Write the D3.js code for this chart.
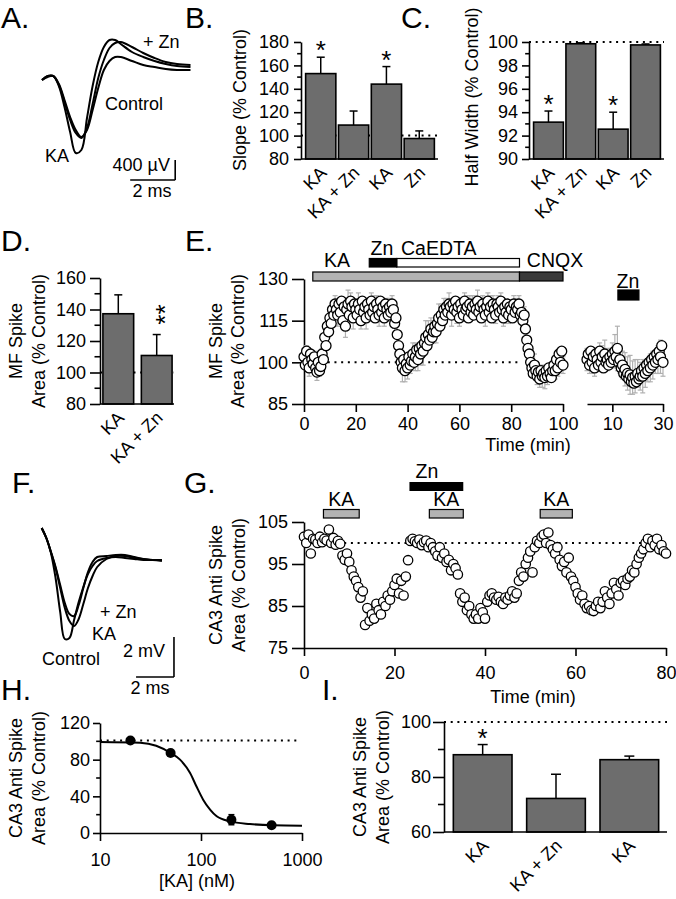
<!DOCTYPE html>
<html><head><meta charset="utf-8">
<script src="https://cdn.jsdelivr.net/npm/d3@7"></script>
<style>
body{margin:0;background:#fff;}
svg{display:block;font-family:'Liberation Sans',Arial,Helvetica,sans-serif;}
</style></head><body>
<svg id="fig" width="676" height="899"></svg>
<script>
// ================= DATA =================
// A: mossy fibre field potentials (ms, µV)
const aTime = [0,0.25,0.5,0.75,1,1.25,1.5,1.75,2,2.25,2.5,2.75,3,3.25,3.5,4,4.5,5,5.5,6,6.6];
const aKA = [0,60,80,-120,-540,-1040,-1460,-1400,-760,-120,360,660,800,800,720,560,460,380,320,280,260];
const aControl = [0,80,80,-100,-440,-800,-1060,-1160,-960,-480,40,400,640,740,760,660,540,440,360,320,300];
const aZn = [0,80,80,-80,-400,-740,-1000,-1140,-1000,-600,-160,200,380,460,460,380,300,260,220,200,200];

// B: slope
const bCats = ["KA", "KA + Zn", "KA", "Zn"];
const bSlope = [153, 109, 144, 97.5];
const bSlopeErr = [14, 12, 15, 6.5];
const bTicks = [80, 100, 120, 140, 160, 180];

// C: half width
const cCats = ["KA", "KA + Zn", "KA", "Zn"];
const cHalf = [93.15, 99.85, 92.55, 99.75];
const cHalfErr = [0.95, 0.08, 1.45, 0.08];
const cTicks = [90, 92, 94, 96, 98, 100];

// D: MF spike area
const dCats = ["KA", "KA + Zn"];
const dArea = [137.3, 110.8];
const dAreaErr = [12, 13.3];
const dTicks = [80, 100, 120, 140, 160];

// E: MF spike area time course (0.5-min samples), error per whole minute
const eLeftArea = [
 102, 99, 104, 100, 98, 103, 101, 99.5, 102,
 98, 96.5, 100, 97, 98.5,
 103, 101, 109, 106, 113, 111,
 116, 114, 119, 117, 121,
 119, 117, 121, 118, 122, 115, 120, 113, 119, 121, 117, 122, 120, 116, 121, 119,
 117, 121, 119, 115, 122, 118, 120, 116, 121, 119, 117, 122, 118, 120, 116, 121,
 119, 117, 122, 118, 120, 116, 121, 119, 117, 120, 118, 121,
 119, 114, 116, 110, 106, 103,
 100, 98, 101, 97, 99.5, 98, 102, 99, 100.5,
 103, 100, 102, 104.5, 101, 105, 103, 106,
 104, 107, 109, 106, 110, 108, 112, 109, 111,
 113, 111, 114, 116, 113, 117, 115, 119, 117, 120, 118, 121,
 120, 117, 121, 119, 122, 118, 120, 116, 121, 119,
 117, 122, 119, 120, 116, 121, 118, 120, 117, 121,
 119, 122, 118, 120, 116, 121, 119, 117, 120, 122,
 118, 120, 116, 121, 119, 117, 121, 120, 118, 122,
 119, 116, 120, 118, 121, 117, 120, 119, 116, 121,
 118, 120,
 119, 121, 117, 118,
 115, 117, 112, 108, 105, 103, 100,
 98, 96, 99, 97, 95, 96.5, 94, 97, 95,
 96, 94.5, 97, 95, 98, 96, 94.5, 97,
 99, 97, 101, 98, 103, 100, 104, 99];
const eLeftErr = [
 3, 2, 3, 2, 2, 3, 2, 2, 3, 3, 3,
 3, 3, 4, 3, 3, 4, 5, 3, 4, 3,
 4, 3, 3, 4, 3, 3, 4, 3, 4, 3,
 3, 4, 3, 3, 4, 5, 4, 5, 4, 4,
 3, 4, 5, 4, 4, 5, 6, 5, 4, 4,
 4, 5, 4, 4, 3, 4, 4, 3, 4, 3,
 4, 3, 4, 3, 4, 3, 4, 3, 3, 4,
 3, 4, 3, 3, 4, 3, 3, 4, 3, 3,
 3, 3, 3, 3, 3, 4, 4, 3, 4, 3,
 3, 4, 4, 3, 3, 3, 3, 3, 3, 3];
const eRightArea = [
 101, 103, 99, 104, 100, 102, 98, 103, 101, 99, 104,
 100, 102, 98, 103, 100, 101, 99, 102, 100, 103, 101,
 104, 102, 105, 100, 101,
 98, 99, 96, 97.5, 95, 96, 94, 95.5, 93, 94.5,
 92.5, 95, 93, 96, 94, 95,
 97, 95, 98, 96, 99, 97, 100, 98,
 101, 99, 102, 100, 103, 101, 104, 102, 106, 100];
const eRightErr = [4, 3, 4, 3, 4, 3, 4, 5, 4, 3, 4, 6, 8, 5, 5, 6, 6, 7, 6, 6, 5, 5, 6, 5, 4, 5, 5, 4, 5, 6, 5];
const eTicksL = [0, 20, 40, 60, 80, 100];
const eTicksR = [10, 30];
const eTicksY = [85, 100, 115, 130];
// drug application periods (min)
const eKA = [3.4, 83.2];
const eCNQX = [83.2, 100];
const eZn = [25.2, 35.8];
const eCaEDTA = [35.8, 83.2];
const eZnRight = [12.2, 20.5];

// F: CA3 antidromic spike traces (ms, mV)
const fTime = [0,0.25,0.5,0.75,1,1.25,1.5,1.75,2,2.25,2.5,2.75,3,3.5,4,4.5,5,5.5,6,6.5];
const fControl = [1.6,1.1,0.35,-0.9,-2.6,-3.95,-3.9,-3.0,-2.1,-1.35,-0.7,-0.3,-0.05,0.1,0.15,0.1,0.05,0,0,-0.05];
const fKA = [1.6,1.1,0.4,-0.4,-1.4,-2.4,-3.05,-3.3,-2.95,-2.2,-1.4,-0.8,-0.35,0.05,0.2,0.2,0.1,0.05,0,0];
const fZn = [1.6,1.1,0.4,-0.35,-1.25,-2.15,-2.7,-2.8,-2.25,-1.4,-0.6,-0.1,0.15,0.2,0.25,0.25,0.15,0.05,0,0];

// G: CA3 antidromic spike area time course (0.5-min samples)
const gArea = [
 101.5, 100, 102, 97.5, 101, 100.8, 100, 101.5, 100.2, 101, 100.6,
 103.2, 100, 101.2, 99.6, 100.5, 99.8, 97, 96, 97.5, 95.5,
 93.5, 92, 91, 89.5, 87, 88.5,
 80.5, 84.5, 81.5, 83, 82, 85.5, 84, 83,
 86, 85, 87.5, 86.5, 88.5, 90, 91.5, 88, 91, 87.5, 92,
 95.9, 100.5,
 101, 100.4, 100, 100.8, 99.5, 100.2, 100.6, 99, 100,
 99, 98, 97, 99, 96.5, 97.5, 95.5, 96, 93.5, 95, 94, 92.5,
 88, 86, 87, 84, 85, 83, 82,
 83, 82, 84.5, 83.5, 82, 86,
 87.5, 88, 87, 86.5, 87.2, 86, 85.5, 87, 86.5, 87.5, 88.5, 87, 88,
 91, 93, 92, 95, 96.5, 98, 93,
 99, 100.5, 100, 101.5, 102, 100, 102.5, 99.5, 98.5,
 97.5, 99, 96, 94.5, 95.5, 93, 96.5, 92, 91, 89.5,
 88, 86.5, 87.5, 85.5, 84.5, 85, 84, 83.8, 85, 86,
 84.5, 86, 88.5, 87, 85.5, 88, 90.5, 89, 87.5, 90.5, 91, 90,
 91.5, 92, 93.5, 93, 95, 96.5, 97.5,
 98.5, 100, 101, 99, 100.5, 99.5, 101, 98.5, 99.5, 98, 97.5];
const gTicksX = [0, 20, 40, 60, 80];
const gTicksY = [75, 85, 95, 105];
const gKA = [[4.3, 12.2], [27.7, 35.2], [52.2, 59.3]];
const gZn = [23.3, 35.2];

// H: concentration response
const hConc = [20, 50, 200, 500];
const hArea = [101, 87.3, 14.5, 8.4];
const hErr = [2.5, 3, 5.5, 3];
const hFitConc = [10, 25, 36, 50, 62, 78, 90, 105, 123, 143, 194, 305, 520, 1000];
const hFitArea = [99.3, 98.5, 95.2, 87.3, 80, 65.4, 51, 36.4, 25.5, 18.2, 12.7, 9.8, 8.4, 8];
const hTicksX = [10, 100, 1000];
const hTicksY = [0, 40, 80, 120];

// I: CA3 antidromic spike area
const iCats = ["KA", "KA + Zn", "KA"];
const iArea = [88.1, 72.2, 86.3];
const iAreaErr = [3.7, 8.8, 1.3];
const iTicks = [60, 80, 100];

// ================= DRAWING =================
const svg = d3.select('#fig');
const FS = 18;
const DRUG = 19.5;
const BAR = '#6d6d6d';

function txt(x, y, s, anchor = 'start', size = FS) {
  return svg.append('text').attr('x', x).attr('y', y).attr('text-anchor', anchor)
    .attr('font-size', size).attr('fill', '#000').text(s);
}
function vtxt(x, yc, s, size = FS) {
  return svg.append('text').attr('transform', `translate(${x},${yc}) rotate(-90)`)
    .attr('text-anchor', 'middle').attr('font-size', size).attr('fill', '#000').text(s);
}
function hline(x1, x2, y, w = 1.6, col = '#000') {
  svg.append('line').attr('x1', x1).attr('x2', x2).attr('y1', y).attr('y2', y)
    .attr('stroke', col).attr('stroke-width', w);
}
function vline(x, y1, y2, w = 1.6, col = '#000') {
  svg.append('line').attr('x1', x).attr('x2', x).attr('y1', y1).attr('y2', y2)
    .attr('stroke', col).attr('stroke-width', w);
}
function dotted(x1, x2, y) {
  svg.append('line').attr('x1', x1).attr('x2', x2).attr('y1', y).attr('y2', y)
    .attr('stroke', '#000').attr('stroke-width', 2).attr('stroke-dasharray', '2,4.7');
}
function styleAxis(a) {
  a.attr('font-size', FS).attr('font-family', null);
  a.selectAll('path.domain').attr('stroke', '#000').attr('stroke-width', 1.6);
  a.selectAll('.tick line').attr('stroke', '#000').attr('stroke-width', 1.6);
  a.selectAll('.tick text').attr('fill', '#000');
  return a;
}
function yAxis(scale, x, ticks, size, pad, minor) {
  const a = svg.append('g').attr('transform', `translate(${x},0)`)
    .call(d3.axisLeft(scale).tickValues(ticks).tickSize(size).tickSizeOuter(0)
      .tickPadding(pad).tickFormat(d3.format('d')));
  styleAxis(a);
  (minor || []).forEach(v => a.append('line').attr('x1', -size * 0.55).attr('x2', 0)
    .attr('y1', scale(v)).attr('y2', scale(v)).attr('stroke', '#000').attr('stroke-width', 1.6));
  return a;
}
function xAxis(scale, y, ticks, size, pad) {
  const a = svg.append('g').attr('transform', `translate(0,${y})`)
    .call(d3.axisBottom(scale).tickValues(ticks).tickSize(size).tickSizeOuter(0)
      .tickPadding(pad).tickFormat(d3.format('d')));
  return styleAxis(a);
}
function star(x, yc, rotated) {
  if (rotated) {
    svg.append('text').attr('transform', `translate(${x + 15},${yc}) rotate(-90)`)
      .attr('text-anchor', 'middle').attr('font-size', 26).text('**');
  } else {
    svg.append('text').attr('x', x).attr('y', yc + 15).attr('text-anchor', 'middle')
      .attr('font-size', 26).text('*');
  }
}
function letter(x, y, s) { txt(x, y, s, 'start', 30); }

function barPanel(p) {
  const xb = d3.scaleBand().domain(d3.range(p.vals.length)).range(p.band)
    .paddingInner(p.pIn).paddingOuter(p.pOut);
  const y = p.y, base = y.range()[0];
  if (p.ref != null) dotted(p.axisX, p.xEnd, y(p.ref));
  svg.append('g').selectAll('rect').data(p.vals).join('rect')
    .attr('x', (d, i) => xb(i)).attr('y', d => y(d))
    .attr('width', xb.bandwidth()).attr('height', d => base - y(d))
    .attr('fill', BAR).attr('stroke', '#000').attr('stroke-width', 1.6);
  p.vals.forEach((v, i) => {
    const cx = xb(i) + xb.bandwidth() / 2, top = y(v + p.errs[i]);
    vline(cx, y(v), top, 1.5);
    hline(cx - p.capW / 2, cx + p.capW / 2, top, 1.5);
  });
  hline(p.axisX, p.xEnd, base);
  yAxis(y, p.axisX, p.ticks, p.tickSize, p.tickPad, p.minor);
  p.cats.forEach((c, i) => {
    const cx = xb(i) + xb.bandwidth() / 2;
    svg.append('text').attr('transform', `translate(${cx + 7},${base + 15}) rotate(-45)`)
      .attr('text-anchor', 'end').attr('font-size', FS).text(c);
  });
  (p.stars || []).forEach(([i, rot]) => {
    const cx = xb(i) + xb.bandwidth() / 2;
    const top = y(p.vals[i] + p.errs[i]);
    if (rot) star(cx + 2, top - 20, true); else star(cx, top - 13, false);
  });
}

// ---------- A ----------
letter(1, 28, 'A.');
{
  const x = d3.scaleLinear().domain([0, 6.6]).range([42, 42 + 6.6 * 22.5]);
  const y = d3.scaleLinear().domain([0, -1500]).range([80, 155]);
  const line = d3.line().x((d, i) => x(aTime[i])).y(d => y(d)).curve(d3.curveCatmullRom.alpha(0.5));
  [aZn, aControl, aKA].forEach(tr => svg.append('path').attr('d', line(tr))
    .attr('fill', 'none').attr('stroke', '#000').attr('stroke-width', 2));
  // scale bar 2 ms / 400 µV
  hline(x(3.92), x(5.92), y(-2000));
  vline(x(5.92), y(-1600), y(-2000));
  txt(143, 48, '+ Zn');
  txt(105, 110, 'Control');
  txt(45, 162, 'KA');
  txt(170, 171, '400 µV', 'end');
  txt(152, 197, '2 ms', 'middle');
}

// ---------- B ----------
letter(185, 28, 'B.');
barPanel({ cats: bCats, vals: bSlope, errs: bSlopeErr,
  y: d3.scaleLinear().domain([80, 180]).range([159, 42]),
  band: [303, 437], pIn: 0.08, pOut: 0.08, axisX: 301, xEnd: 438, ref: 100,
  ticks: bTicks, minor: [90, 110, 130, 150, 170], tickSize: 7, tickPad: 5, capW: 8,
  stars: [[0, false], [2, false]] });
vtxt(246, 100, 'Slope (% Control)');

// ---------- C ----------
letter(401, 28, 'C.');
barPanel({ cats: cCats, vals: cHalf, errs: cHalfErr,
  y: d3.scaleLinear().domain([90, 100]).range([159, 42]),
  band: [531, 663], pIn: 0.08, pOut: 0.08, axisX: 529, xEnd: 664, ref: 100,
  ticks: cTicks, minor: [91, 93, 95, 97, 99], tickSize: 7, tickPad: 4, capW: 8,
  stars: [[0, false], [2, false]] });
vtxt(478, 97, 'Half Width (% Control)');

// ---------- D ----------
letter(1, 251, 'D.');
barPanel({ cats: dCats, vals: dArea, errs: dAreaErr,
  y: d3.scaleLinear().domain([80, 160]).range([404, 278]),
  band: [101, 174], pIn: 0.2, pOut: 0.05, axisX: 100, xEnd: 174, ref: 100,
  ticks: dTicks, minor: [90, 110, 130, 150], tickSize: 10, tickPad: 4, capW: 8,
  stars: [[1, true]] });
vtxt(22, 341, 'MF Spike');
vtxt(45, 341, 'Area (% Control)');

// ---------- E ----------
letter(185, 251, 'E.');
{
  const xl = d3.scaleLinear().domain([0, 100]).range([304, 563]);
  const xr = d3.scaleLinear().domain([0, 30]).range([587, 663]);
  const y = d3.scaleLinear().domain([85, 130]).range([404, 279]);
  // drug bars
  const barRect = (sc, span, y0, h, fill) => svg.append('rect')
    .attr('x', sc(span[0])).attr('y', y0).attr('width', sc(span[1]) - sc(span[0])).attr('height', h)
    .attr('fill', fill).attr('stroke', '#000').attr('stroke-width', 1.2);
  barRect(xl, eKA, 272, 9, '#b3b3b3');
  barRect(xl, eCNQX, 272, 9, '#3a3a3a');
  barRect(xl, eCaEDTA, 258.5, 8.5, '#fff');
  barRect(xl, eZn, 258.5, 8.5, '#000');
  barRect(xr, eZnRight, 290, 10, '#000');
  txt(337, 267, 'KA', 'middle', DRUG);
  txt(382, 255, 'Zn', 'middle', DRUG);
  txt(401, 255, 'CaEDTA', 'start', DRUG);
  txt(555, 267, 'CNQX', 'middle', DRUG);
  txt(628, 288, 'Zn', 'middle', DRUG);
  dotted(xl(4), xl(84), y(100));
  // axes
  yAxis(y, 304, eTicksY, 12, 4);
  xAxis(xl, 404, eTicksL, 8, 5);
  xAxis(xr, 404, eTicksR, 8, 5);
  txt(528, 451, 'Time (min)', 'middle');
  // points
  const drawSeries = (sc, vals, errs) => {
    const g = svg.append('g');
    vals.forEach((v, i) => {
      if (i % 2 === 0) {
        const e = errs[i / 2], cx = sc(i * 0.5);
        g.append('line').attr('x1', cx).attr('x2', cx).attr('y1', y(v - e)).attr('y2', y(v + e))
          .attr('stroke', '#b0b0b0').attr('stroke-width', 1.2);
        [v - e, v + e].forEach(w => g.append('line').attr('x1', cx - 2.5).attr('x2', cx + 2.5)
          .attr('y1', y(w)).attr('y2', y(w)).attr('stroke', '#b0b0b0').attr('stroke-width', 1.2));
      }
    });
    g.selectAll('circle').data(vals).join('circle')
      .attr('cx', (d, i) => sc(i * 0.5)).attr('cy', d => y(d)).attr('r', 5)
      .attr('fill', '#fff').attr('stroke', '#000').attr('stroke-width', 1.3);
  };
  drawSeries(xl, eLeftArea, eLeftErr);
  drawSeries(xr, eRightArea, eRightErr);
}
vtxt(222, 341, 'MF Spike');
vtxt(244, 341, 'Area (% Control)');

// ---------- F ----------
letter(12, 493, 'F.');
{
  const x = d3.scaleLinear().domain([0, 6.5]).range([41.7, 41.7 + 6.5 * 18.5]);
  const y = d3.scaleLinear().domain([0, -5]).range([560, 660]);
  const line = d3.line().x((d, i) => x(fTime[i])).y(d => y(d)).curve(d3.curveCatmullRom.alpha(0.5));
  [fZn, fKA, fControl].forEach(tr => svg.append('path').attr('d', line(tr))
    .attr('fill', 'none').attr('stroke', '#000').attr('stroke-width', 2));
  hline(x(5.1), x(7.15), y(-5.85));
  vline(x(7.15), y(-3.85), y(-5.85));
  txt(100, 618, '+ Zn');
  txt(92, 640, 'KA');
  txt(42, 665, 'Control');
  txt(165, 657, '2 mV', 'end');
  txt(150, 694, '2 ms', 'middle');
}

// ---------- G ----------
letter(184, 493, 'G.');
{
  const x = d3.scaleLinear().domain([0, 80]).range([304, 666]);
  const y = d3.scaleLinear().domain([75, 105]).range([648, 522]);
  svg.append('rect').attr('x', x(gZn[0])).attr('y', 482).attr('width', x(gZn[1]) - x(gZn[0]))
    .attr('height', 9).attr('fill', '#000');
  txt(427, 478, 'Zn', 'middle', DRUG);
  gKA.forEach(s => {
    svg.append('rect').attr('x', x(s[0])).attr('y', 509.5).attr('width', x(s[1]) - x(s[0]))
      .attr('height', 8.5).attr('fill', '#b3b3b3').attr('stroke', '#000').attr('stroke-width', 1.2);
    txt((x(s[0]) + x(s[1])) / 2, 506, 'KA', 'middle', DRUG);
  });
  dotted(x(0), x(80), y(100));
  yAxis(y, 304, gTicksY, 12, 4);
  xAxis(x, 648, gTicksX, 8, 10);
  txt(533, 703, 'Time (min)', 'middle');
  svg.append('g').selectAll('circle').data(gArea).join('circle')
    .attr('cx', (d, i) => x(i * 0.5)).attr('cy', d => y(d)).attr('r', 4.7)
    .attr('fill', '#fff').attr('stroke', '#000').attr('stroke-width', 1.3);
}
vtxt(222, 585, 'CA3 Anti Spike');
vtxt(245, 585, 'Area (% Control)');

// ---------- H ----------
letter(1, 700, 'H.');
{
  const x = d3.scaleLog().domain([10, 1000]).range([100, 302]);
  const y = d3.scaleLinear().domain([0, 120]).range([833, 723]);
  dotted(x(10), x(900), y(101));
  yAxis(y, 100, hTicksY, 7, 3, [20, 60, 100]);
  xAxis(x, 833, hTicksX, 8, 12);
  const line = d3.line().x((d, i) => x(hFitConc[i])).y(d => y(d)).curve(d3.curveMonotoneX);
  svg.append('path').attr('d', line(hFitArea)).attr('fill', 'none').attr('stroke', '#000').attr('stroke-width', 2);
  hConc.forEach((c, i) => {
    const cx = x(c);
    vline(cx, y(hArea[i] - hErr[i]), y(hArea[i] + hErr[i]), 1.5);
    hline(cx - 3, cx + 3, y(hArea[i] - hErr[i]), 1.5);
    hline(cx - 3, cx + 3, y(hArea[i] + hErr[i]), 1.5);
  });
  svg.append('g').selectAll('circle').data(hArea).join('circle')
    .attr('cx', (d, i) => x(hConc[i])).attr('cy', d => y(d)).attr('r', 5).attr('fill', '#000');
  txt(197, 887, '[KA] (nM)', 'middle');
}
vtxt(22, 778, 'CA3 Anti Spike');
vtxt(45, 778, 'Area (% Control)');

// ---------- I ----------
letter(322, 700, 'I.');
barPanel({ cats: iCats, vals: iArea, errs: iAreaErr,
  y: d3.scaleLinear().domain([60, 100]).range([832, 722]),
  band: [446, 666], pIn: 0.2, pOut: 0.1, axisX: 444, xEnd: 667, ref: 100,
  ticks: iTicks, minor: [70, 90], tickSize: 11, tickPad: 2, capW: 10,
  stars: [[0, false]] });
vtxt(366, 777, 'CA3 Anti Spike');
vtxt(389, 777, 'Area (% Control)');
</script></body></html>
